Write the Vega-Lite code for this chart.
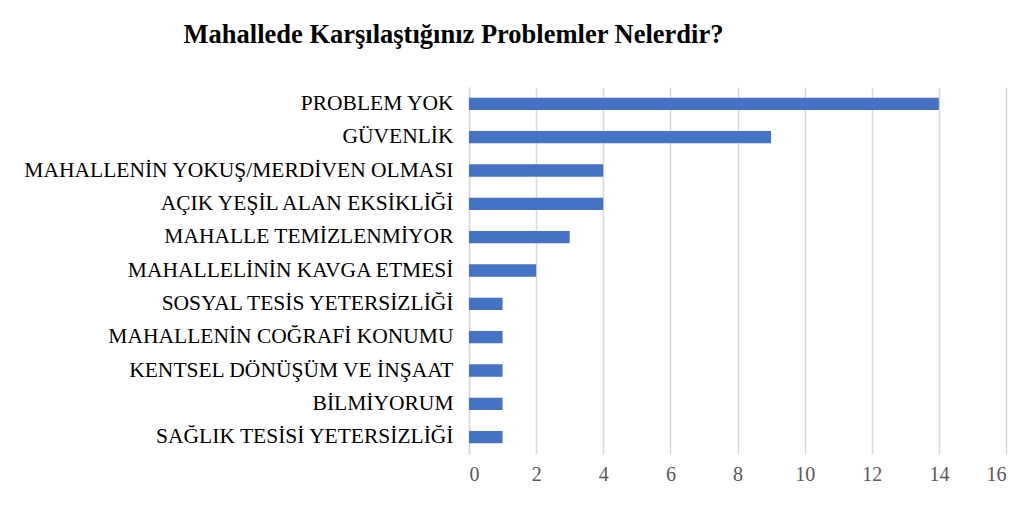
{
  "$schema": "https://vega.github.io/schema/vega-lite/v6.json",
  "width": 537,
  "height": 367,
  "autosize": {"type": "none"},
  "padding": {"left": 469, "top": 87, "right": 30, "bottom": 54},
  "background": "white",
  "title": {
    "text": "Mahallede Karşılaştığınız Problemler Nelerdir?",
    "font": "Liberation Serif",
    "fontSize": 26.5,
    "fontWeight": "bold",
    "color": "#000000",
    "anchor": "middle",
    "dx": -284,
    "offset": 39
  },
  "data": {
    "values": [
      {"problem": "PROBLEM YOK", "count": 14},
      {"problem": "GÜVENLİK", "count": 9},
      {"problem": "MAHALLENİN YOKUŞ/MERDİVEN OLMASI", "count": 4},
      {"problem": "AÇIK YEŞİL ALAN EKSİKLİĞİ", "count": 4},
      {"problem": "MAHALLE TEMİZLENMİYOR", "count": 3},
      {"problem": "MAHALLELİNİN KAVGA ETMESİ", "count": 2},
      {"problem": "SOSYAL TESİS YETERSİZLİĞİ ", "count": 1},
      {"problem": "MAHALLENİN COĞRAFİ KONUMU", "count": 1},
      {"problem": "KENTSEL DÖNÜŞÜM VE İNŞAAT", "count": 1},
      {"problem": "BİLMİYORUM", "count": 1},
      {"problem": "SAĞLIK TESİSİ YETERSİZLİĞİ", "count": 1}
    ]
  },
  "mark": {"type": "bar", "color": "#4472C4"},
  "encoding": {
    "y": {
      "field": "problem",
      "type": "nominal",
      "sort": null,
      "scale": {"paddingInner": 0.63, "paddingOuter": 0.32},
      "axis": {
        "title": null,
        "domain": true,
        "domainColor": "#d9d9d9",
        "domainWidth": 1.5,
        "ticks": false,
        "labelFont": "Liberation Serif",
        "labelFontSize": 21.5,
        "labelColor": "#000000",
        "labelPadding": 16,
        "labelLimit": 500
      }
    },
    "x": {
      "field": "count",
      "type": "quantitative",
      "scale": {"domain": [0, 16], "nice": false},
      "axis": {
        "title": null,
        "values": [0, 2, 4, 6, 8, 10, 12, 14, 16],
        "grid": true,
        "gridColor": "#d9d9d9",
        "gridWidth": 1.5,
        "domain": false,
        "ticks": false,
        "labelFont": "Liberation Serif",
        "labelFontSize": 20,
        "labelColor": "#595959",
        "labelPadding": 10
      }
    }
  },
  "config": {"view": {"stroke": null}}
}
